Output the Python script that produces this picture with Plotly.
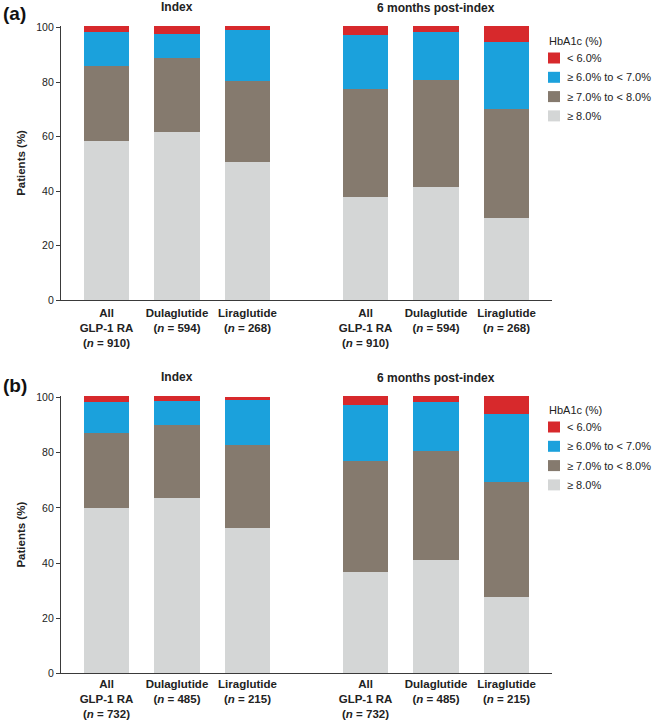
import plotly.graph_objects as go

# ---------------- data ----------------
cats_a = ["All<br>GLP-1 RA<br>(<i>n</i> = 910)", "Dulaglutide<br>(<i>n</i> = 594)", "Liraglutide<br>(<i>n</i> = 268)"]
cats_b = ["All<br>GLP-1 RA<br>(<i>n</i> = 732)", "Dulaglutide<br>(<i>n</i> = 485)", "Liraglutide<br>(<i>n</i> = 215)"]

series_names = ["≥ 8.0%", "≥ 7.0% to < 8.0%", "≥ 6.0% to < 7.0%", "< 6.0%"]
legend_title = "HbA1c (%)"

# Panel (a)
a_index_ge8 = [58.2, 61.5, 50.6]
a_index_7to8 = [27.8, 27.5, 29.8]
a_index_6to7 = [12.2, 8.8, 18.8]
a_index_lt6 = [2.2, 2.6, 1.2]
a_post_ge8 = [37.9, 41.4, 30.0]
a_post_7to8 = [39.5, 39.2, 40.1]
a_post_6to7 = [20.0, 17.9, 24.5]
a_post_lt6 = [3.0, 1.9, 5.8]

# Panel (b)
b_index_ge8 = [59.9, 63.7, 52.6]
b_index_7to8 = [27.4, 26.4, 30.1]
b_index_6to7 = [11.3, 8.6, 16.5]
b_index_lt6 = [2.0, 1.9, 1.2]
b_post_ge8 = [36.9, 41.1, 27.6]
b_post_7to8 = [40.1, 39.4, 41.8]
b_post_6to7 = [20.2, 18.1, 24.8]
b_post_lt6 = [3.4, 2.0, 6.4]

y_ticks = [0, 20, 40, 60, 80, 100]

# ---------------- style ----------------
colors = ["#d4d6d6", "#857a6e", "#1ba1dc", "#d7292c"]
FONT = "Arial, Liberation Sans, Helvetica, sans-serif"
TXT = "#222222"
AX = "#3a3a3a"
W, H = 652, 720

def px_x(p):
    return p / W

def px_y(p):
    return 1 - p / H

fig = go.Figure()

groups = [
    ("x", "y", cats_a, [a_index_ge8, a_index_7to8, a_index_6to7, a_index_lt6]),
    ("x2", "y", cats_a, [a_post_ge8, a_post_7to8, a_post_6to7, a_post_lt6]),
    ("x3", "y2", cats_b, [b_index_ge8, b_index_7to8, b_index_6to7, b_index_lt6]),
    ("x4", "y2", cats_b, [b_post_ge8, b_post_7to8, b_post_6to7, b_post_lt6]),
]

for xa, ya, cats, vals in groups:
    for name, v, c in zip(series_names, vals, colors):
        fig.add_trace(go.Bar(
            x=cats, y=v, name=name, xaxis=xa, yaxis=ya,
            marker=dict(color=c, line=dict(width=0)),
            width=0.64, showlegend=False,
        ))

# layout geometry (pixels)
x_left, x_mid, x_right = 61, 306, 552
a_bottom, a_top = 300, 25.9
b_bottom, b_top = 673.3, 396.0
ymax = 100.6

xcommon = dict(
    type="category", showline=True, linecolor=AX, linewidth=1.3,
    ticks="", showgrid=False, zeroline=False, automargin=False,
    tickfont=dict(family=FONT, size=11.5, color=TXT, weight="bold"),
)
ycommon = dict(
    range=[0, ymax], tickvals=y_ticks, showline=True, linecolor=AX, linewidth=1.3,
    ticks="outside", ticklen=4, tickcolor=AX, tickwidth=1.2,
    showgrid=False, zeroline=False, automargin=False,
    tickfont=dict(family=FONT, size=10.5, color=TXT),
    title=dict(text="Patients (%)", font=dict(family=FONT, size=11.5, color=TXT, weight="bold"), standoff=8),
)

fig.update_layout(
    width=W, height=H, autosize=False,
    margin=dict(l=0, r=0, t=0, b=0, autoexpand=False),
    paper_bgcolor="white", plot_bgcolor="white",
    barmode="stack",
    showlegend=False,
    font=dict(family=FONT, color=TXT),
    xaxis=dict(xcommon, domain=[px_x(x_left), px_x(x_mid)], range=[-0.645, 2.83], anchor="y", ticklabelstandoff=2),
    xaxis2=dict(xcommon, domain=[px_x(x_mid), px_x(x_right)], range=[-0.844, 2.645], anchor="y", ticklabelstandoff=2),
    xaxis3=dict(xcommon, domain=[px_x(x_left), px_x(x_mid)], range=[-0.645, 2.83], anchor="y2"),
    xaxis4=dict(xcommon, domain=[px_x(x_mid), px_x(x_right)], range=[-0.844, 2.645], anchor="y2"),
    yaxis=dict(ycommon, domain=[px_y(a_bottom), px_y(a_top)], anchor="x"),
    yaxis2=dict(ycommon, domain=[px_y(b_bottom), px_y(b_top)], anchor="x3"),
)

ann_font_title = dict(family=FONT, size=12, color=TXT, weight="bold")
annotations = [
    dict(text="(a)", x=px_x(1), y=px_y(13), xanchor="left", yanchor="middle",
         font=dict(family=FONT, size=19, color="#111111", weight="bold")),
    dict(text="(b)", x=px_x(1), y=px_y(385), xanchor="left", yanchor="middle",
         font=dict(family=FONT, size=19, color="#111111", weight="bold")),
    dict(text="Index", x=px_x(177), y=px_y(7), xanchor="center", yanchor="middle", font=ann_font_title),
    dict(text="6 months post-index", x=px_x(436), y=px_y(8), xanchor="center", yanchor="middle", font=ann_font_title),
    dict(text="Index", x=px_x(177), y=px_y(377), xanchor="center", yanchor="middle", font=ann_font_title),
    dict(text="6 months post-index", x=px_x(436), y=px_y(378), xanchor="center", yanchor="middle", font=ann_font_title),
]
shapes = []

# legends (one per panel), entries listed top-down from "< 6.0%"
leg_font = dict(family=FONT, size=11, color=TXT)
sw_x0, sw_w, sw_h, txt_x, step = 548, 12, 11, 565, 19.3
for title_y in (41, 410):
    annotations.append(dict(text=legend_title, x=px_x(sw_x0 - 1), y=px_y(title_y),
                            xanchor="left", yanchor="middle", font=leg_font))
    for i, (name, c) in enumerate(zip(series_names[::-1], colors[::-1])):
        cy = title_y + 17 + i * step
        shapes.append(dict(type="rect", xref="paper", yref="paper",
                           x0=px_x(sw_x0), x1=px_x(sw_x0 + sw_w),
                           y0=px_y(cy + sw_h / 2), y1=px_y(cy - sw_h / 2),
                           fillcolor=c, line=dict(width=0)))
        annotations.append(dict(text=name, x=px_x(txt_x), y=px_y(cy),
                                xanchor="left", yanchor="middle", font=leg_font))

for a in annotations:
    a.update(xref="paper", yref="paper", showarrow=False)
fig.update_layout(annotations=annotations, shapes=shapes)

fig.write_html("out.html", config={"displayModeBar": False},
               post_script="document.body.style.margin='0px';")
